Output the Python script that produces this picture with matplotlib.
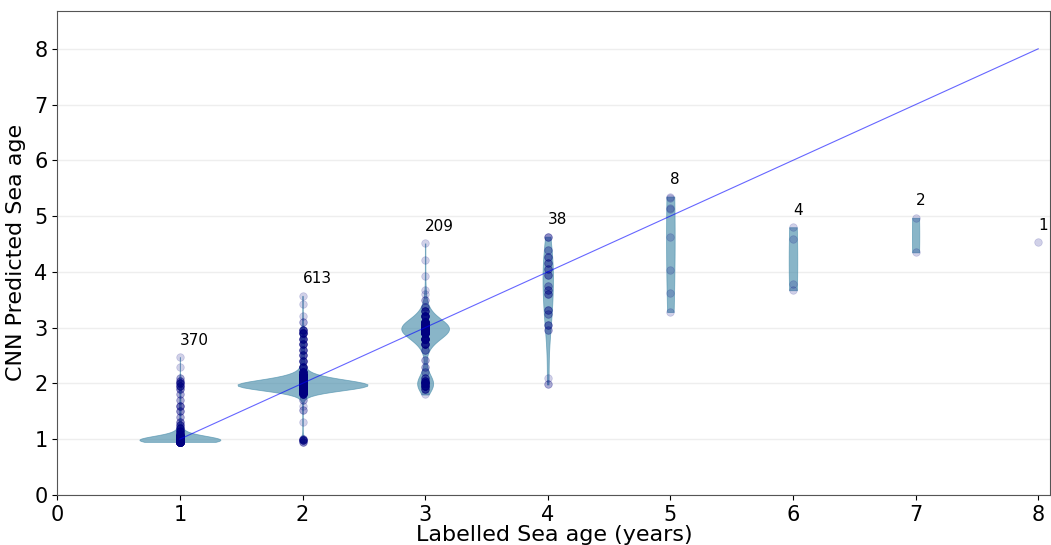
import numpy as np
import matplotlib.pyplot as plt

# labelled sea age classes and number of fish in each
ages = [1, 2, 3, 4, 5, 6, 7, 8]
n_fish = [370, 613, 209, 38, 8, 4, 2, 1]

# predicted values, with how often each shows up
pred1 = [0.95, 0.97, 0.99, 1.01, 1.03, 1.06, 1.1, 1.15, 1.2, 1.25, 1.3, 1.4,
         1.5, 1.6, 1.7, 1.8, 1.9, 1.95, 2.0, 2.05, 2.1, 2.3, 2.47]
cnt1 = [60, 81, 70, 50, 30, 15, 10, 8, 6, 4, 3, 2, 3, 4, 2, 2, 3, 5, 5, 3, 2, 1, 1]
pred2 = [0.95, 0.98, 1.0, 1.31, 1.52, 1.6, 1.7, 1.8, 1.85, 1.9, 1.95, 2.0, 2.05,
         2.1, 2.15, 2.2, 2.3, 2.4, 2.5, 2.6, 2.7, 2.8, 2.9, 2.95, 3.1, 3.21, 3.43, 3.57]
cnt2 = [3, 6, 3, 1, 2, 1, 2, 10, 30, 80, 153, 130, 70, 35, 20, 12, 8, 6, 5, 5, 6,
        6, 8, 6, 2, 1, 1, 1]
pred3 = [1.8, 1.9, 1.95, 2.0, 2.05, 2.1, 2.2, 2.3, 2.42, 2.6, 2.7, 2.8, 2.9, 2.95,
         3.0, 3.05, 3.1, 3.2, 3.3, 3.37, 3.5, 3.6, 3.68, 3.93, 4.21, 4.51]
cnt3 = [1, 5, 10, 12, 7, 4, 2, 2, 2, 3, 9, 16, 23, 24, 24, 21, 16, 11, 6, 3, 2, 1,
        1, 1, 1, 1]
pred4 = [1.98, 2.1, 2.95, 3.05, 3.25, 3.32, 3.6, 3.67, 3.74, 3.95, 4.05, 4.15,
         4.27, 4.4, 4.63]
cnt4 = [2, 1, 2, 3, 2, 3, 3, 3, 2, 3, 3, 3, 3, 2, 3]
pred5 = [5.35, 5.32, 5.15, 5.12, 4.63, 4.04, 3.62, 3.28]
pred6 = [4.80, 4.58, 3.79, 3.67]
pred7 = [4.97, 4.35]
pred8 = [4.53]

preds = [np.repeat(pred1, cnt1), np.repeat(pred2, cnt2), np.repeat(pred3, cnt3),
         np.repeat(pred4, cnt4), np.array(pred5), np.array(pred6),
         np.array(pred7), np.array(pred8)]
widths = [0.66, 1.06, 0.39, 0.085, 0.07, 0.07, 0.06]
bws = [0.25, 0.25, 0.3, 0.6, 2.0, 2.0, 2.0]

fig = plt.figure(figsize=(10.51, 5.45), dpi=100)
ax = fig.add_axes([0.0545, 0.092, 0.945, 0.888])

# violins (not for the single fish at age 8)
for a, p, w, bw in zip(ages[:7], preds[:7], widths, bws):
    vp = ax.violinplot([p], positions=[a], widths=w, showextrema=False,
                       bw_method=bw)
    for body in vp['bodies']:
        body.set_facecolor('#4a8eab')
        body.set_edgecolor('#4a8eab')
        body.set_linewidth(0.6)
        body.set_alpha(0.65)

# one to one line
ax.plot([ages[0], ages[-1]], [ages[0], ages[-1]], color='blue', lw=0.8, alpha=0.6)

for a, p, n in zip(ages, preds, n_fish):
    ax.scatter(np.full(len(p), a), p, s=30, color='navy', alpha=0.18,
               linewidths=0.5)
    ax.text(a, p.max() + 0.17, str(n), fontsize=11, ha='left', va='bottom')

ax.set_xlim(0, 8.1)
ax.set_ylim(0, 8.68)
ax.set_xticks(range(0, 9))
ax.set_yticks(range(0, 9))
ax.tick_params(labelsize=15)
ax.yaxis.grid(True, color='#eeeeee', lw=1)
ax.set_axisbelow(True)
for s in ax.spines.values():
    s.set_color('#555555')
ax.set_xlabel('Labelled Sea age (years)', fontsize=16, labelpad=0)
ax.set_ylabel('CNN Predicted Sea age', fontsize=16, labelpad=6)

plt.savefig('out.png', dpi=100)
